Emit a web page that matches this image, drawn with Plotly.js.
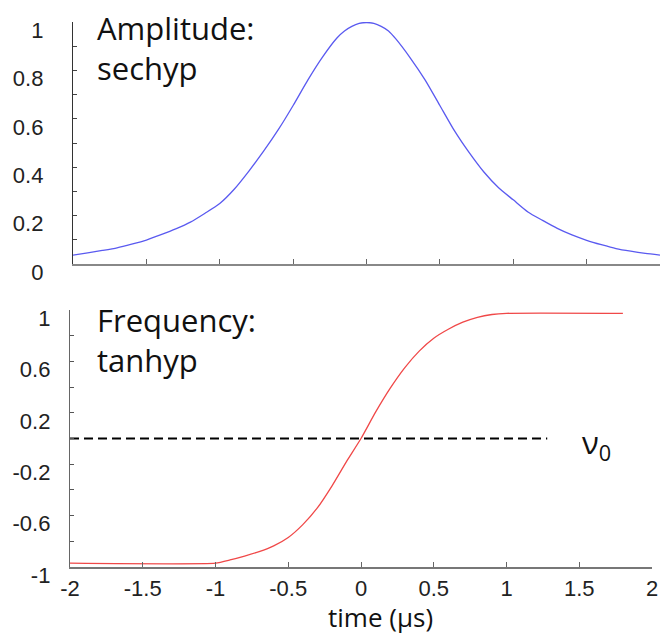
<!DOCTYPE html>
<html>
<head>
<meta charset="utf-8">
<script src="https://cdn.plot.ly/plotly-3.0.1.min.js"></script>
<style>html,body{margin:0;padding:0;background:#fff;}#chart{width:662px;height:637px;}</style>
</head>
<body>
<div id="chart"></div>
<script>
// Amplitude (sechyp)
const ampTime = [-2.0,-1.9,-1.8,-1.7,-1.6,-1.5,-1.4,-1.3,-1.2,-1.1,-1.0,-0.9,-0.8,-0.7,-0.6,-0.5,-0.4,-0.3,-0.2,-0.15,-0.1,-0.05,0.0,
                 0.05,0.1,0.15,0.2,0.3,0.4,0.5,0.6,0.7,0.8,0.9,1.0,1.1,1.2,1.3,1.4,1.5,1.6,1.7,1.8,1.9,2.0];
const ampValues = [0.037,0.046,0.056,0.067,0.082,0.099,0.121,0.145,0.173,0.21,0.25,0.31,0.385,0.467,0.556,0.655,0.76,0.855,0.935,0.963,0.982,0.994,0.998,
                   0.994,0.982,0.963,0.93,0.85,0.76,0.655,0.55,0.46,0.38,0.315,0.265,0.215,0.18,0.147,0.12,0.098,0.08,0.064,0.053,0.044,0.037];

// Frequency (tanhyp)
const freqTime = [-2.0,-1.0,-0.9,-0.8,-0.7,-0.6,-0.5,-0.4,-0.3,-0.2,-0.1,0.0,0.1,0.2,0.3,0.4,0.5,0.6,0.7,0.8,0.9,1.0,1.8];
const freqValues = [-0.97,-0.97,-0.945,-0.915,-0.88,-0.835,-0.77,-0.67,-0.54,-0.37,-0.18,0.0,0.205,0.39,0.55,0.68,0.78,0.85,0.905,0.943,0.965,0.974,0.974];

// nu0 reference line
const nu0Time = [-2.0, 1.28];
const nu0Values = [0, 0];

// Tick labels
const timeTicks = [-2,-1.5,-1,-0.5,0,0.5,1,1.5,2];
const timeTickText = ['-2','-1.5','-1','-0.5','0','0.5','1','1.5','2'];
const ampTicks = [0,0.2,0.4,0.6,0.8,1];
const ampTickText = ['0','0.2','0.4','0.6','0.8','1'];
const freqTicks = [-1,-0.6,-0.2,0.2,0.6,1];
const freqTickText = ['-1','-0.6','-0.2','0.2','0.6','1'];

const W = 662, H = 637;
const px = v => v / W;
const py = v => 1 - v / H;

const traces = [
  {x: ampTime, y: ampValues, xaxis: 'x', yaxis: 'y', mode: 'lines', line: {color: '#5a5af0', width: 1.3, shape: 'spline', smoothing: 0.6}, hoverinfo: 'x+y'},
  {x: freqTime, y: freqValues, xaxis: 'x2', yaxis: 'y2', mode: 'lines', line: {color: '#f04848', width: 1.3, shape: 'spline', smoothing: 0.5}, hoverinfo: 'x+y'},
  {x: nu0Time, y: nu0Values, xaxis: 'x2', yaxis: 'y2', mode: 'lines', line: {color: '#000', width: 2, dash: '9px,5px'}, hoverinfo: 'skip'}
];

const tickFont = {family: 'Liberation Sans, Arial', size: 22, color: '#222'};
const textFont = {family: 'Open Sans', size: 31, color: '#111'};

const layout = {
  width: W, height: H,
  margin: {l: 0, r: 0, t: 0, b: 0},
  paper_bgcolor: '#fff', plot_bgcolor: '#fff',
  showlegend: false,
  xaxis: {
    domain: [px(73), px(660)], range: [-2, 2], anchor: 'y',
    showline: true, linecolor: '#888', linewidth: 1.5,
    ticks: 'inside', ticklen: 5, tickcolor: '#666', tickwidth: 1,
    tickvals: timeTicks, showticklabels: false,
    showgrid: false, zeroline: false, fixedrange: true
  },
  yaxis: {
    domain: [1 - 264 / H, 1 - 22 / H], range: [0, 1], anchor: 'x',
    showline: true, linecolor: '#333', linewidth: 1.2,
    ticks: 'inside', ticklen: 4, tickcolor: '#444', tickwidth: 1,
    tickvals: ampTicks, ticktext: ampTickText,
    minor: {dtick: 0.1, tick0: 0, ticks: 'inside', ticklen: 4, tickcolor: '#444', showgrid: false},
    tickfont: tickFont, ticklabelstandoff: 24, ticklabelshift: 8,
    showgrid: false, zeroline: false, fixedrange: true
  },
  xaxis2: {
    domain: [px(70), px(652)], range: [-2, 2], anchor: 'y2',
    showline: true, linecolor: '#777', linewidth: 1.5,
    ticks: 'inside', ticklen: 5, tickcolor: '#666', tickwidth: 1,
    tickvals: timeTicks, ticktext: timeTickText,
    tickfont: tickFont, ticklabelstandoff: 1,
    showgrid: false, zeroline: false, fixedrange: true
  },
  yaxis2: {
    domain: [1 - 567 / H, 1 - 310 / H], range: [-1, 1], anchor: 'x2',
    showline: true, linecolor: '#666', linewidth: 1.2,
    ticks: 'inside', ticklen: 4, tickcolor: '#555', tickwidth: 1,
    tickvals: freqTicks, ticktext: freqTickText,
    minor: {dtick: 0.2, tick0: 0, ticks: 'inside', ticklen: 4, tickcolor: '#555', showgrid: false},
    tickfont: tickFont, ticklabelstandoff: 14, ticklabelshift: 8,
    showgrid: false, zeroline: false, fixedrange: true
  },
  annotations: [
    {text: 'Amplitude:<br>sechyp', xref: 'paper', yref: 'paper', x: px(96), y: py(6), xanchor: 'left', yanchor: 'top', align: 'left', showarrow: false, borderpad: 0, font: textFont},
    {text: 'Frequency:<br>tanhyp', xref: 'paper', yref: 'paper', x: px(96), y: py(298), xanchor: 'left', yanchor: 'top', align: 'left', showarrow: false, borderpad: 0, font: textFont},
    {text: 'ν<sub>0</sub>', xref: 'paper', yref: 'paper', x: px(580), y: py(444), xanchor: 'left', yanchor: 'middle', showarrow: false, font: textFont},
    {text: 'time (µs)', xref: 'paper', yref: 'paper', x: px(380), y: py(617), xanchor: 'center', yanchor: 'middle', showarrow: false, borderpad: 0, font: {family: 'Open Sans', size: 26, color: '#111'}}
  ]
};

Plotly.newPlot('chart', traces, layout, {displayModeBar: false, staticPlot: true});
</script>
</body>
</html>
